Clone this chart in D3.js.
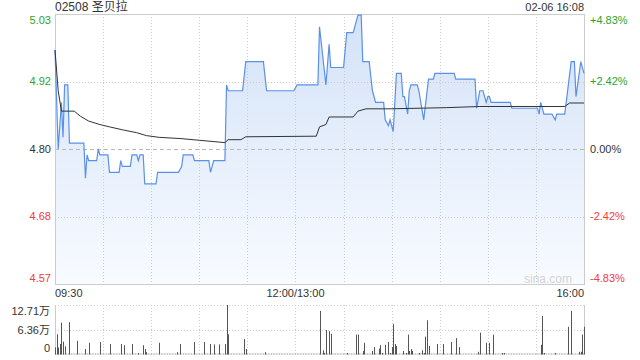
<!DOCTYPE html>
<html>
<head>
<meta charset="utf-8">
<script src="https://d3js.org/d3.v7.min.js"></script>
<style>
  body { margin: 0; background: #fff; }
  text { font-family: "Liberation Sans", Arial, "Noto Sans CJK SC", sans-serif; }
</style>
</head>
<body>
<div id="chart"></div>
<script>
  // chart data
  const stockTitle = '02508 圣贝拉';
  const stampText = '02-06 16:08';
  const prevClose = 4.80;
  const maxPct = 0.0483;

  const priceTimes = ['09:30','09:32','09:34','09:35','09:36','09:38','09:39','09:48','09:49','09:50',
    '09:51','09:56','09:57','09:58','10:03','10:04','10:10','10:11','10:12','10:17',
    '10:18','10:21','10:22','10:23','10:25','10:26','10:33','10:34','10:47','10:49',
    '10:50','10:56','10:57','11:06','11:07','11:09','11:16','11:17','11:18','11:27',
    '11:29','11:40','11:42','11:59','13:01','13:14','13:15','13:19','13:21','13:22',
    '13:30','13:32','13:36','13:39','13:41','13:42','13:46','13:48','13:50','13:55',
    '13:56','13:58','13:59','14:01','14:03','14:06','14:07','14:08','14:10','14:11',
    '14:12','14:16','14:17','14:20','14:23','14:26','14:27','14:39','14:40','14:52',
    '14:53','14:55','14:57','14:59','15:00','15:01','15:02','15:14','15:15','15:31',
    '15:32','15:33','15:35','15:40','15:42','15:43','15:48','15:52','15:54','15:55',
    '15:58','16:00'];
  const priceValues = [4.97,4.80,4.88,4.82,4.91,4.91,4.81,4.81,4.75,4.79,
    4.78,4.78,4.80,4.79,4.79,4.76,4.76,4.78,4.77,4.77,
    4.79,4.79,4.78,4.79,4.79,4.74,4.74,4.76,4.76,4.77,
    4.79,4.79,4.78,4.78,4.76,4.78,4.78,4.91,4.90,4.90,
    4.95,4.95,4.90,4.90,4.91,4.91,5.01,4.91,4.98,4.94,
    4.94,5.00,5.00,5.03,5.03,4.95,4.95,4.90,4.88,4.88,
    4.85,4.84,4.85,4.83,4.93,4.93,4.89,4.89,4.86,4.90,
    4.91,4.91,4.90,4.85,4.92,4.92,4.93,4.93,4.92,4.92,
    4.87,4.90,4.90,4.88,4.89,4.89,4.88,4.88,4.87,4.87,
    4.86,4.88,4.86,4.86,4.85,4.86,4.86,4.95,4.95,4.89,
    4.95,4.93];

  const avgTimes = ['09:30','09:32','09:34','09:42','09:46','09:51','09:58','10:04','10:12','10:21',
    '10:27','10:35','10:48','11:00','11:16','11:18','11:26','11:29','13:13','13:15',
    '13:19','13:21','13:36','13:39','13:44','13:59','14:34','14:55','15:48','15:51','16:00'];
  const avgValues = [4.97,4.90,4.865,4.865,4.856,4.848,4.842,4.838,4.833,4.828,
    4.823,4.820,4.818,4.815,4.811,4.816,4.816,4.821,4.822,4.838,
    4.842,4.855,4.855,4.865,4.869,4.869,4.871,4.873,4.873,4.879,4.879];

  // volume in 万 shares
  const volTimes = ['09:30','09:31','09:32','09:33','09:34','09:35','09:36','09:39','09:44','09:49',
    '09:51','09:58','10:04','10:11','10:13','10:18','10:22','10:25','10:26','10:27',
    '10:35','10:46','10:48','10:57','11:03','11:07','11:09','11:12','11:16','11:17',
    '11:18','11:28','11:29','11:41','13:15','13:17','13:18','13:19','13:21','13:22',
    '13:32','13:38','13:39','13:42','13:43','13:48','13:49','13:52','13:53','13:54',
    '13:56','13:58','13:59','14:00','14:01','14:02','14:03','14:07','14:09','14:10',
    '14:11','14:12','14:13','14:17','14:19','14:20','14:21','14:22','14:23','14:28',
    '14:32','14:37','14:40','14:42','14:54','14:55','14:59','15:01','15:03','15:09',
    '15:10','15:33','15:34','15:35','15:42','15:50','15:52','15:57','15:58','15:59','16:00'];
  const volValues = [1.8,5.2,1.8,2.7,8.2,3.3,2.1,8.3,3.5,1.4,
    3.0,3.2,2.7,2.7,2.4,2.7,0.4,2.4,1.4,0.6,
    3.0,0.6,2.7,3.2,3.2,2.7,2.6,2.6,2.7,12.71,
    5.2,4.0,1.4,0.6,11.2,1.1,0.4,6.3,6.0,5.3,
    0.4,5.1,5.1,0.9,3.0,0.9,1.9,1.5,2.4,0.4,
    2.5,3.2,0.4,1.9,7.8,2.7,2.2,0.9,0.4,5.1,
    0.9,1.4,0.9,0.4,1.1,0.4,4.6,8.8,2.2,2.7,
    2.7,3.2,4.2,1.9,0.7,5.6,3.0,3.0,5.1,0.4,
    0.4,2.5,9.9,0.4,0.4,7.1,11.2,0.7,0.7,5.1,7.1];
  const volMax = 12.71;

  // trading minute index: 09:30-12:00 -> 0..150, 13:00-16:00 -> 150..330
  function toIdx(s) {
    const p = s.split(':');
    const m = +p[0] * 60 + +p[1];
    return m < 12 * 60 + 30 ? m - (9 * 60 + 30) : 150 + m - 13 * 60;
  }

  const W = 640, H = 360;
  const pLeft = 55, pRight = 584, pTop = 14, pBottom = 284;
  const vTop = 305, vBottom = 354.5;

  const green = '#2aa52a', red = '#f03c3c';

  const svg = d3.select('#chart').append('svg')
    .attr('width', W).attr('height', H);

  const x = d3.scaleLinear().domain([0, 330]).range([pLeft, pRight]);
  const y = d3.scaleLinear()
    .domain([prevClose * (1 - maxPct), prevClose * (1 + maxPct)])
    .range([pBottom, pTop]);
  const yv = d3.scaleLinear().domain([0, volMax]).range([vBottom, vTop]);

  // gradient for the area
  const defs = svg.append('defs');
  const grad = defs.append('linearGradient').attr('id', 'fillGrad')
    .attr('gradientUnits', 'userSpaceOnUse')
    .attr('x1', 0).attr('y1', pTop).attr('x2', 0).attr('y2', pBottom);
  grad.append('stop').attr('offset', '0%').attr('stop-color', '#d3e2f8');
  grad.append('stop').attr('offset', '100%').attr('stop-color', '#f8fbff');

  const priceData = priceTimes.map((t, i) => ({t: toIdx(t), v: priceValues[i]}));
  const avgData = avgTimes.map((t, i) => ({t: toIdx(t), v: avgValues[i]}));

  // area
  svg.append('path')
    .datum(priceData)
    .attr('fill', 'url(#fillGrad)')
    .attr('d', d3.area().x(d => x(d.t)).y0(pBottom).y1(d => y(d.v)));

  // horizontal grid
  const pctLevels = [maxPct, maxPct / 2, 0, -maxPct / 2, -maxPct];
  pctLevels.forEach(p => {
    const yy = Math.round(y(prevClose * (1 + p))) + 0.5;
    if (p === maxPct || p === -maxPct) return;
    svg.append('line')
      .attr('x1', pLeft).attr('x2', pRight).attr('y1', yy).attr('y2', yy)
      .attr('stroke', p === 0 ? '#b8b8b8' : '#cccccc')
      .attr('stroke-dasharray', p === 0 ? '4,3' : '1,2');
  });

  // vertical grid every 30 minutes
  d3.range(30, 330, 30).forEach(t => {
    const xx = Math.round(x(t)) + 0.5;
    svg.append('line')
      .attr('x1', xx).attr('x2', xx).attr('y1', pTop).attr('y2', pBottom)
      .attr('stroke', '#cccccc').attr('stroke-dasharray', '1,2');
    svg.append('line')
      .attr('x1', xx).attr('x2', xx).attr('y1', vTop).attr('y2', vBottom)
      .attr('stroke', '#cccccc').attr('stroke-dasharray', '1,2');
  });

  // frame
  svg.append('rect')
    .attr('x', pLeft + 0.5).attr('y', pTop + 0.5)
    .attr('width', pRight - pLeft).attr('height', pBottom - pTop)
    .attr('fill', 'none').attr('stroke', '#cccccc');

  // price line and avg line
  svg.append('path')
    .datum(priceData)
    .attr('fill', 'none').attr('stroke', '#5a90ea').attr('stroke-width', 1.2)
    .attr('d', d3.line().x(d => x(d.t)).y(d => y(d.v)));
  svg.append('path')
    .datum(avgData)
    .attr('fill', 'none').attr('stroke', '#333').attr('stroke-width', 1)
    .attr('d', d3.line().x(d => x(d.t)).y(d => y(d.v)));

  // y labels, left and right
  pctLevels.forEach((p, i) => {
    const val = prevClose * (1 + p);
    const col = p > 0 ? green : (p < 0 ? red : '#333');
    let yy = y(val);
    if (i === 0) yy += 6;
    if (i === pctLevels.length - 1) yy -= 6;
    svg.append('text')
      .attr('x', 51).attr('y', yy).attr('dy', '0.35em')
      .attr('text-anchor', 'end').attr('font-size', 11).attr('fill', col)
      .text(val.toFixed(2));
    svg.append('text')
      .attr('x', 590).attr('y', yy).attr('dy', '0.35em')
      .attr('font-size', 11).attr('fill', col)
      .text((p > 0 ? '+' : '') + (p * 100).toFixed(2) + '%');
  });

  // time labels
  const timeLabels = [
    {t: 0, s: '09:30', a: 'start'},
    {t: 150, s: '12:00/13:00', a: 'middle'},
    {t: 330, s: '16:00', a: 'end'}
  ];
  svg.selectAll('.tl').data(timeLabels).enter().append('text')
    .attr('x', d => x(d.t)).attr('y', 293).attr('dy', '0.35em')
    .attr('text-anchor', d => d.a).attr('font-size', 11).attr('fill', '#333')
    .text(d => d.s);

  // title and timestamp
  svg.append('text').attr('x', 55).attr('y', 7).attr('dy', '0.35em')
    .attr('font-size', 12).attr('fill', '#333').text(stockTitle);
  svg.append('text').attr('x', pRight).attr('y', 7).attr('dy', '0.35em')
    .attr('text-anchor', 'end').attr('font-size', 11).attr('fill', '#333').text(stampText);

  // watermark
  svg.append('text').attr('x', 572).attr('y', 279).attr('dy', '0.35em')
    .attr('text-anchor', 'end').attr('font-size', 12).attr('fill', '#d4d4d4').text('sina.com');

  // volume panel
  [volMax, volMax / 2].forEach(v => {
    const yy = Math.round(yv(v)) + 0.5;
    svg.append('line').attr('x1', pLeft).attr('x2', pRight).attr('y1', yy).attr('y2', yy)
      .attr('stroke', '#cccccc').attr('stroke-dasharray', '1,2');
  });
  svg.append('line').attr('x1', pLeft + 0.5).attr('x2', pLeft + 0.5).attr('y1', vTop).attr('y2', vBottom)
    .attr('stroke', '#cccccc');
  svg.append('line').attr('x1', pRight + 0.5).attr('x2', pRight + 0.5).attr('y1', vTop).attr('y2', vBottom)
    .attr('stroke', '#cccccc');
  svg.append('line').attr('x1', pLeft).attr('x2', pRight).attr('y1', vBottom - 0.5).attr('y2', vBottom - 0.5)
    .attr('stroke', '#999').attr('stroke-dasharray', '1,0.6');

  svg.selectAll('.vb').data(volTimes.map((t, i) => ({t: toIdx(t), v: volValues[i]})))
    .enter().append('rect')
    .attr('x', d => Math.round(x(d.t)))
    .attr('y', d => yv(d.v))
    .attr('width', 1)
    .attr('height', d => vBottom - yv(d.v))
    .attr('fill', '#555');

  const volLabels = [{v: volMax, s: '12.71万', off: 6}, {v: volMax / 2, s: '6.36万', off: 0}, {v: 0, s: '0', off: -6}];
  svg.selectAll('.vl').data(volLabels).enter().append('text')
    .attr('x', 50).attr('y', d => yv(d.v) + d.off).attr('dy', '0.35em')
    .attr('text-anchor', 'end').attr('font-size', 11).attr('fill', '#333')
    .text(d => d.s);
</script>
</body>
</html>
